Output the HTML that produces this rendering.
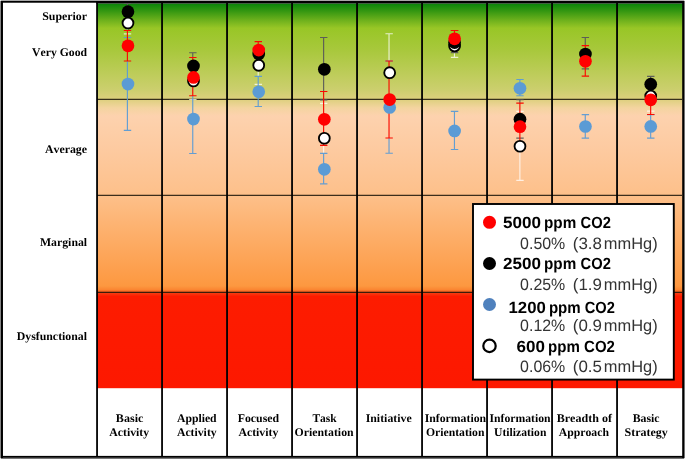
<!DOCTYPE html>
<html><head><meta charset="utf-8"><title>CO2 performance chart</title>
<style>
html,body{margin:0;padding:0;background:#fff;}
svg{display:block;will-change:transform;}
</style></head>
<body>
<svg width="685" height="459" viewBox="0 0 685 459">
<defs><linearGradient id="bg" x1="0" y1="3.5" x2="0" y2="388.2" gradientUnits="userSpaceOnUse"><stop offset="0.0000" stop-color="#0a840a"/><stop offset="0.0169" stop-color="#2e9410"/><stop offset="0.0429" stop-color="#6cb01c"/><stop offset="0.0637" stop-color="#98c626"/><stop offset="0.1209" stop-color="#a8c83c"/><stop offset="0.2249" stop-color="#cccf6e"/><stop offset="0.2482" stop-color="#dcd07c"/><stop offset="0.2716" stop-color="#f4d4a0"/><stop offset="0.2924" stop-color="#fdd2ae"/><stop offset="0.3808" stop-color="#fdcaa0"/><stop offset="0.4978" stop-color="#fdc08a"/><stop offset="0.7343" stop-color="#fd9840"/><stop offset="0.7434" stop-color="#fb8632"/><stop offset="0.7486" stop-color="#f86422"/><stop offset="0.7531" stop-color="#f83a10"/><stop offset="0.7616" stop-color="#fd1c00"/><stop offset="1.0000" stop-color="#fd1800"/></linearGradient></defs>
<rect x="0" y="0" width="685" height="459" fill="#fff"/>
<rect x="97" y="3.5" width="586" height="384.7" fill="url(#bg)"/>
<g stroke="#1a1408" stroke-opacity="0.85" stroke-width="1.2"><line x1="97" y1="99.4" x2="682" y2="99.4"/><line x1="97" y1="195.4" x2="682" y2="195.4"/><line x1="97" y1="292.4" x2="682" y2="292.4"/></g>
<g stroke="#000" stroke-width="1.8"><line x1="97.05" y1="3" x2="97.05" y2="456"/><line x1="162.05" y1="3" x2="162.05" y2="456"/><line x1="227.05" y1="3" x2="227.05" y2="456"/><line x1="292.05" y1="3" x2="292.05" y2="456"/><line x1="357.05" y1="3" x2="357.05" y2="456"/><line x1="422.05" y1="3" x2="422.05" y2="456"/><line x1="487.05" y1="3" x2="487.05" y2="456"/><line x1="552.05" y1="3" x2="552.05" y2="456"/><line x1="617.05" y1="3" x2="617.05" y2="456"/></g>
<rect x="96.1" y="1" width="587" height="2.5" fill="#000"/>
<g fill="#000"><rect x="1" y="1" width="1.97" height="457"/><rect x="1" y="1" width="683" height="1.72"/><rect x="682.2" y="1" width="1.8" height="457"/><rect x="1" y="455.9" width="683" height="1.9"/></g>
<rect x="0" y="0" width="685" height="1" fill="#a8a8a8"/><rect x="0" y="0" width="1" height="459" fill="#858585"/><rect x="684" y="0" width="1" height="459" fill="#727272"/><rect x="0" y="458" width="685" height="1" fill="#787878"/>
<g fill="#e8e8e8"><rect x="0" y="0" width="1" height="1"/><rect x="684" y="0" width="1" height="1"/><rect x="0" y="458" width="1" height="1"/><rect x="684" y="458" width="1" height="1"/></g>
<g stroke="#ffffff" stroke-opacity="0.75" stroke-width="1.15" fill="none">
<path d="M123.80 11.9H131.20M123.80 33.9H131.20M127.40 19.9V30.45"/>
<path d="M189.15 62.5H196.55M189.15 99.5H196.55"/>
<path d="M254.60 46.0H262.00M254.60 84.3H262.00M258.20 61.8V76.4"/>
<path d="M320.02 103.3H327.42M320.02 172.5H327.42M323.62 145.4V153.4"/>
<path d="M385.43 33.7H392.83M385.43 110.9H392.83M389.03 33.7V61.0"/>
<path d="M450.85 34.6H458.25M450.85 57.3H458.25M454.45 52.65V57.3"/>
<path d="M516.28 111.3H523.68M516.28 180.4H523.68M519.88 149.5V180.4"/>
<path d="M647.07 81.5H654.47M647.07 111.1H654.47"/>
</g>
<g stroke="#5b9bd5" stroke-opacity="0.95" stroke-width="1.15" fill="none">
<path d="M123.80 37.5H131.20M123.80 130.4H131.20M127.40 61.0V130.4"/>
<path d="M189.15 84.7H196.55M189.15 153.5H196.55M192.75 95.7V153.5"/>
<path d="M254.60 76.4H262.00M254.60 106.5H262.00M258.20 76.4V106.5"/>
<path d="M320.02 153.4H327.42M320.02 183.8H327.42M323.62 153.4V183.8"/>
<path d="M385.43 61.0H392.83M385.43 153.2H392.83M389.03 138.0V153.2"/>
<path d="M450.85 111.4H458.25M450.85 149.5H458.25M454.45 111.4V149.5"/>
<path d="M516.28 79.5H523.68M516.28 95.7H523.68M519.88 79.5V95.7"/>
<path d="M581.67 114.6H589.07M581.67 138.1H589.07M585.27 114.6V138.1"/>
<path d="M647.07 114.6H654.47M647.07 138.1H654.47M650.67 114.6V138.1"/>
</g>
<g stroke="#595959" stroke-opacity="0.95" stroke-width="1.15" fill="none">
<path d="M123.80 3.5H131.20M123.80 19.9H131.20M127.40 3.5V19.9"/>
<path d="M189.15 52.7H196.55M189.15 77.7H196.55M192.75 52.7V57.5"/>
<path d="M254.60 46.2H262.00M254.60 61.8H262.00M258.20 57.8V61.8"/>
<path d="M320.02 37.5H327.42M320.02 99.9H327.42M323.62 37.5V91.5"/>
<path d="M450.85 30.45H458.25M450.85 52.65H458.25M454.45 47.1V52.65"/>
<path d="M516.28 99.7H523.68M516.28 138.1H523.68M519.88 99.7V103.1"/>
<path d="M581.67 37.5H589.07M581.67 68.8H589.07M585.27 37.5V45.6"/>
<path d="M647.07 76.3H654.47M647.07 91.5H654.47M650.67 76.3V84.0"/>
</g>
<g stroke="#fa0a00" stroke-opacity="1" stroke-width="1.15" fill="none">
<path d="M123.80 30.45H131.20M123.80 61.0H131.20M127.40 30.45V61.0"/>
<path d="M189.15 57.5H196.55M189.15 95.7H196.55M192.75 57.5V95.7"/>
<path d="M254.60 41.6H262.00M254.60 57.8H262.00M258.20 41.6V57.8"/>
<path d="M320.02 91.5H327.42M320.02 145.4H327.42M323.62 91.5V145.4"/>
<path d="M385.43 61.0H392.83M385.43 138.0H392.83M389.03 61.0V138.0"/>
<path d="M450.85 30.45H458.25M450.85 47.1H458.25M454.45 30.45V47.1"/>
<path d="M516.28 103.1H523.68M516.28 149.5H523.68M519.88 103.1V149.5"/>
<path d="M581.67 45.6H589.07M581.67 76.1H589.07M585.27 45.6V76.1"/>
<path d="M647.07 84.0H654.47M647.07 114.5H654.47M650.67 84.0V114.5"/>
</g>
<circle cx="127.98" cy="23.1" r="5.43" fill="#fff" stroke="#000" stroke-width="1.85"/>
<circle cx="193.48" cy="81.0" r="5.43" fill="#fff" stroke="#000" stroke-width="1.85"/>
<circle cx="258.73" cy="65.3" r="5.43" fill="#fff" stroke="#000" stroke-width="1.85"/>
<circle cx="324.34" cy="138.25" r="5.43" fill="#fff" stroke="#000" stroke-width="1.85"/>
<circle cx="389.67" cy="72.7" r="5.43" fill="#fff" stroke="#000" stroke-width="1.85"/>
<circle cx="454.59" cy="45.9" r="5.43" fill="#fff" stroke="#000" stroke-width="1.85"/>
<circle cx="519.98" cy="146.25" r="5.43" fill="#fff" stroke="#000" stroke-width="1.85"/>
<circle cx="650.73" cy="96.1" r="5.43" fill="#fff" stroke="#000" stroke-width="1.85"/>
<circle cx="127.98" cy="84.1" r="6.35" fill="#5b9bd5"/>
<circle cx="193.48" cy="119.05" r="6.35" fill="#5b9bd5"/>
<circle cx="258.73" cy="91.8" r="6.35" fill="#5b9bd5"/>
<circle cx="324.34" cy="169.3" r="6.35" fill="#5b9bd5"/>
<circle cx="389.67" cy="107.4" r="6.35" fill="#5b9bd5"/>
<circle cx="454.59" cy="130.9" r="6.35" fill="#5b9bd5"/>
<circle cx="519.98" cy="88.3" r="6.35" fill="#5b9bd5"/>
<circle cx="585.44" cy="126.5" r="6.35" fill="#5b9bd5"/>
<circle cx="650.73" cy="126.45" r="6.35" fill="#5b9bd5"/>
<circle cx="127.98" cy="11.7" r="6.35" fill="#000"/>
<circle cx="193.48" cy="65.95" r="6.35" fill="#000"/>
<circle cx="258.73" cy="54.0" r="6.35" fill="#000"/>
<circle cx="324.34" cy="69.3" r="6.35" fill="#000"/>
<circle cx="454.59" cy="42.55" r="6.35" fill="#000"/>
<circle cx="519.98" cy="119.2" r="6.35" fill="#000"/>
<circle cx="585.44" cy="54.1" r="6.35" fill="#000"/>
<circle cx="650.73" cy="84.15" r="6.35" fill="#000"/>
<circle cx="127.98" cy="45.8" r="6.35" fill="#ff0000"/>
<circle cx="193.48" cy="77.4" r="6.35" fill="#ff0000"/>
<circle cx="258.73" cy="50.1" r="6.35" fill="#ff0000"/>
<circle cx="324.34" cy="119.35" r="6.35" fill="#ff0000"/>
<circle cx="389.67" cy="99.55" r="6.35" fill="#ff0000"/>
<circle cx="454.59" cy="38.8" r="6.35" fill="#ff0000"/>
<circle cx="519.98" cy="126.65" r="6.35" fill="#ff0000"/>
<circle cx="585.44" cy="61.3" r="6.35" fill="#ff0000"/>
<circle cx="650.73" cy="99.8" r="6.35" fill="#ff0000"/>
<g font-family="'Liberation Serif', serif" font-weight="bold" font-size="11.7px" fill="#000" text-rendering="geometricPrecision" style="font-kerning:none">
<text x="87.1" y="20.40" text-anchor="end" textLength="44.9" lengthAdjust="spacingAndGlyphs">Superior</text><text x="87.1" y="56.40" text-anchor="end" textLength="55.1" lengthAdjust="spacingAndGlyphs">Very Good</text><text x="87.1" y="152.60" text-anchor="end" textLength="42.2" lengthAdjust="spacingAndGlyphs">Average</text><text x="87.1" y="246.00" text-anchor="end" textLength="47.1" lengthAdjust="spacingAndGlyphs">Marginal</text><text x="87.1" y="339.70" text-anchor="end" textLength="70.4" lengthAdjust="spacingAndGlyphs">Dysfunctional</text>
<text x="129.6" y="422.05" text-anchor="middle" textLength="27.5" lengthAdjust="spacingAndGlyphs">Basic</text><text x="129.2" y="436.0" text-anchor="middle" textLength="39.9" lengthAdjust="spacingAndGlyphs">Activity</text><text x="196.8" y="422.05" text-anchor="middle" textLength="39.7" lengthAdjust="spacingAndGlyphs">Applied</text><text x="196.8" y="436.0" text-anchor="middle" textLength="39.7" lengthAdjust="spacingAndGlyphs">Activity</text><text x="258.4" y="422.05" text-anchor="middle" textLength="41.4" lengthAdjust="spacingAndGlyphs">Focused</text><text x="258.4" y="436.0" text-anchor="middle" textLength="39.9" lengthAdjust="spacingAndGlyphs">Activity</text><text x="324.6" y="422.05" text-anchor="middle" textLength="24.3" lengthAdjust="spacingAndGlyphs">Task</text><text x="324.1" y="436.0" text-anchor="middle" textLength="59.0" lengthAdjust="spacingAndGlyphs">Orientation</text><text x="388.7" y="422.05" text-anchor="middle" textLength="46.0" lengthAdjust="spacingAndGlyphs">Initiative</text><text x="455.4" y="422.05" text-anchor="middle" textLength="61.5" lengthAdjust="spacingAndGlyphs">Information</text><text x="455.2" y="436.0" text-anchor="middle" textLength="58.5" lengthAdjust="spacingAndGlyphs">Orientation</text><text x="520.0" y="422.05" text-anchor="middle" textLength="61.1" lengthAdjust="spacingAndGlyphs">Information</text><text x="520.2" y="436.0" text-anchor="middle" textLength="52.3" lengthAdjust="spacingAndGlyphs">Utilization</text><text x="584.3" y="422.05" text-anchor="middle" textLength="55.3" lengthAdjust="spacingAndGlyphs">Breadth of</text><text x="583.8" y="436.0" text-anchor="middle" textLength="50.3" lengthAdjust="spacingAndGlyphs">Approach</text><text x="646.1" y="422.05" text-anchor="middle" textLength="26.9" lengthAdjust="spacingAndGlyphs">Basic</text><text x="646.2" y="436.0" text-anchor="middle" textLength="43.3" lengthAdjust="spacingAndGlyphs">Strategy</text>
</g>

<rect x="473" y="204.0" width="200.8" height="175.6" fill="#fff" stroke="#000" stroke-width="1.9"/>
<circle cx="489.5" cy="222.3" r="6.5" fill="#ff0000"/>
<circle cx="489.5" cy="263.5" r="6.5" fill="#000"/>
<circle cx="489.5" cy="304.5" r="6.5" fill="#4f81bd"/>
<circle cx="489.5" cy="345.9" r="6.2" fill="#fff" stroke="#000" stroke-width="2.2"/>
<g font-family="'Liberation Sans', sans-serif" font-size="16.5px" text-rendering="geometricPrecision">
<g font-weight="bold" font-size="16.3px" fill="#000"><text transform="translate(503.1 227.6) scale(1 1.0)" textLength="38.0" lengthAdjust="spacingAndGlyphs">5000</text><text transform="translate(544.0 227.6) scale(1 1.0)" textLength="32.2" lengthAdjust="spacingAndGlyphs">ppm</text><text transform="translate(580.6 227.6) scale(1 1.0)" textLength="30.2" lengthAdjust="spacingAndGlyphs">CO2</text><text transform="translate(503.1 269.0) scale(1 1.0)" textLength="38.0" lengthAdjust="spacingAndGlyphs">2500</text><text transform="translate(544.0 269.0) scale(1 1.0)" textLength="32.2" lengthAdjust="spacingAndGlyphs">ppm</text><text transform="translate(580.6 269.0) scale(1 1.0)" textLength="30.2" lengthAdjust="spacingAndGlyphs">CO2</text><text transform="translate(508.5 313.35) scale(1 1.0)" textLength="37.3" lengthAdjust="spacingAndGlyphs">1200</text><text transform="translate(548.9 313.35) scale(1 1.0)" textLength="31.8" lengthAdjust="spacingAndGlyphs">ppm</text><text transform="translate(584.8 313.35) scale(1 1.0)" textLength="30.1" lengthAdjust="spacingAndGlyphs">CO2</text><text transform="translate(516.6 351.6) scale(1 1.0)" textLength="28.4" lengthAdjust="spacingAndGlyphs">600</text><text transform="translate(548.0 351.6) scale(1 1.0)" textLength="31.8" lengthAdjust="spacingAndGlyphs">ppm</text><text transform="translate(584.1 351.6) scale(1 1.0)" textLength="30.8" lengthAdjust="spacingAndGlyphs">CO2</text></g>
<g fill="#333"><text transform="translate(520.1 248.5) scale(1 1.0)" textLength="45.2" lengthAdjust="spacingAndGlyphs">0.50%</text><text transform="translate(572.8 248.5) scale(1 1.0)" textLength="29.2" lengthAdjust="spacingAndGlyphs">(3.8</text><text transform="translate(603.8 248.5) scale(1 1.0)" textLength="53.8" lengthAdjust="spacingAndGlyphs">mmHg)</text><text transform="translate(520.1 289.7) scale(1 1.0)" textLength="45.2" lengthAdjust="spacingAndGlyphs">0.25%</text><text transform="translate(572.8 289.7) scale(1 1.0)" textLength="29.2" lengthAdjust="spacingAndGlyphs">(1.9</text><text transform="translate(603.8 289.7) scale(1 1.0)" textLength="53.8" lengthAdjust="spacingAndGlyphs">mmHg)</text><text transform="translate(520.1 331.2) scale(1 1.0)" textLength="45.2" lengthAdjust="spacingAndGlyphs">0.12%</text><text transform="translate(572.8 331.2) scale(1 1.0)" textLength="29.2" lengthAdjust="spacingAndGlyphs">(0.9</text><text transform="translate(603.8 331.2) scale(1 1.0)" textLength="53.8" lengthAdjust="spacingAndGlyphs">mmHg)</text><text transform="translate(520.1 372.4) scale(1 1.0)" textLength="45.2" lengthAdjust="spacingAndGlyphs">0.06%</text><text transform="translate(572.8 372.4) scale(1 1.0)" textLength="29.2" lengthAdjust="spacingAndGlyphs">(0.5</text><text transform="translate(603.8 372.4) scale(1 1.0)" textLength="53.8" lengthAdjust="spacingAndGlyphs">mmHg)</text></g>
</g>

</svg>
</body></html>
